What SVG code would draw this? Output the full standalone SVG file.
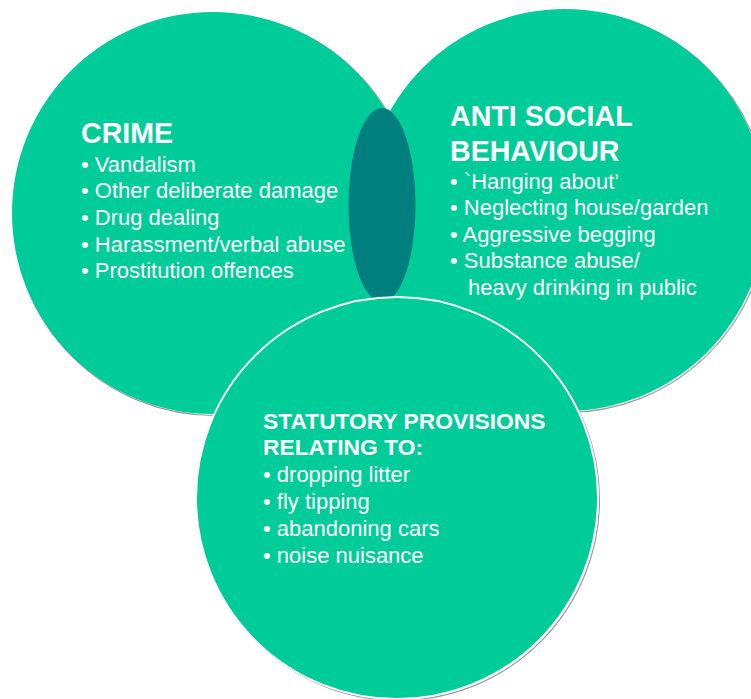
<svg xmlns="http://www.w3.org/2000/svg" width="751" height="699" viewBox="0 0 751 699">
<style>
.c{fill:#00CC99}
.cs{fill:#00CC99;stroke:#ffffff;stroke-width:2}
.sh{fill:none;stroke:#9a9a9a;stroke-width:1.2}
.h{font-family:"Liberation Sans",Arial,sans-serif;font-weight:bold;font-size:28.6px;fill:#ffffff}
.h2{font-family:"Liberation Sans",Arial,sans-serif;font-weight:bold;font-size:22.8px;fill:#ffffff}
.t{font-family:"Liberation Sans",Arial,sans-serif;font-size:22px;fill:#ffffff}
</style>
<rect width="751" height="699" fill="#ffffff"/>
<g id="shadows">
<circle class="sh" cx="566.5" cy="211.5" r="201"/>
<circle class="sh" cx="214.5" cy="214.5" r="201"/>
</g>
<g id="anti-social">
<circle class="c" cx="565" cy="210" r="201"/>
<text class="h" x="450" y="126">ANTI SOCIAL</text>
<text class="h" x="450" y="161">BEHAVIOUR</text>
<text class="t" x="450" y="189">• `Hanging about’</text>
<text class="t" x="450" y="215">• Neglecting house/garden</text>
<text class="t" x="450" y="242">• Aggressive begging</text>
<text class="t" x="450" y="268">• Substance abuse/</text>
<text class="t" x="468" y="295">heavy drinking in public</text>
</g>
<g id="crime">
<circle class="c" cx="213" cy="213" r="201"/>
<text class="h" x="81" y="143">CRIME</text>
<text class="t" x="81" y="172">• Vandalism</text>
<text class="t" x="81" y="198">• Other deliberate damage</text>
<text class="t" x="81" y="225">• Drug dealing</text>
<text class="t" x="81" y="252">• Harassment/verbal abuse</text>
<text class="t" x="81" y="278">• Prostitution offences</text>
</g>
<g id="overlap">
<ellipse cx="382" cy="205" rx="33.5" ry="97" fill="#007F7F"/>
</g>
<g id="statutory">
<circle class="sh" cx="398.5" cy="499.5" r="201"/>
<circle class="cs" cx="397" cy="498" r="201"/>
<text class="h2" x="263" y="429">STATUTORY PROVISIONS</text>
<text class="h2" x="263" y="455">RELATING TO:</text>
<text class="t" x="263" y="482">• dropping litter</text>
<text class="t" x="263" y="509">• fly tipping</text>
<text class="t" x="263" y="536">• abandoning cars</text>
<text class="t" x="263" y="563">• noise nuisance</text>
</g>
<g id="connectors"/>
</svg>
